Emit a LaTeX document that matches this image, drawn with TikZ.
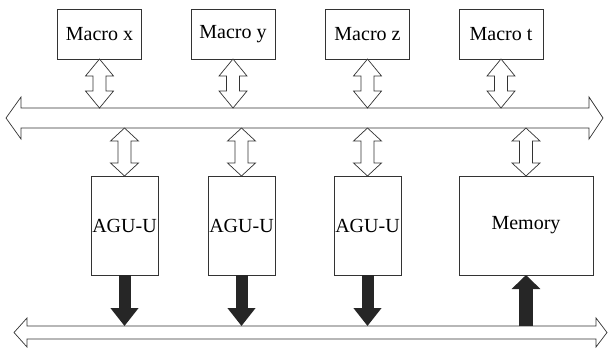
\documentclass[tikz,border=0pt]{standalone}
\usepackage{fontspec}
\setmainfont{Liberation Serif}
\usetikzlibrary{calc,arrows.meta}

% hollow two-way arrow: top point, bottom point, head length
\newcommand{\twoway}[3]{%
  \draw[fill=white] let \p1=($#1-#2$) in #1
    -- ++(14pt,-#3) -- ++(-7.5pt,0pt) -- ++(0pt,{-(\y1-2*#3)})
    -- ++(7.5pt,0pt) -- #2 -- ++(-14pt,#3) -- ++(7.5pt,0pt)
    -- ++(0pt,{\y1-2*#3}) -- ++(-7.5pt,0pt) -- cycle;}

\begin{document}
\begin{tikzpicture}[x=1pt, y=-1pt, line width=0.7pt, draw=black!80,
    unit/.style={draw=black!80, inner sep=0pt, outer sep=0pt,
      font=\fontsize{20}{22}\selectfont},
    macro/.style={unit, minimum width=84pt, minimum height=50pt},
    agu/.style={unit, minimum width=67pt, minimum height=99pt},
    feed/.style={draw=black!85, line width=12pt,
      -{Triangle[width=27pt,length=18pt]}}]
    \useasboundingbox (0,0) rectangle (608,349);
    % Macro blocks
    \node[macro] (mx) at (99.5,34) {Macro x};
    \node[macro] (my) at (233,34) {Macro y};
    \node[macro] (mz) at (367.5,34) {Macro z};
    \node[macro] (mt) at (501,34) {Macro t};
    % Upper bus
    \draw[fill=white] (6,118) -- (21,97) -- (21,108) -- (589,108) -- (589,97)
      -- (603,118) -- (589,139) -- (589,128) -- (21,128) -- (21,139) -- cycle;
    \coordinate (busup) at (300,108);
    \coordinate (buslow) at (300,128);
    % Lower bus
    \draw[fill=white] (14,332.5) -- (27,318) -- (27,326) -- (596,326) -- (596,318)
      -- (607,332.5) -- (596,347) -- (596,339) -- (27,339) -- (27,347) -- cycle;
    \coordinate (busout) at (300,326);
    % Units
    \node[agu] (a1) at (124.5,225.5) {AGU-U};
    \node[agu] (a2) at (241.5,225.5) {AGU-U};
    \node[agu] (a3) at (367.5,225.5) {AGU-U};
    \node[unit, minimum width=134pt, minimum height=99pt] (mem) at (526,225.5) {Memory};
    % Macro <-> bus
    \foreach \m in {mx,my,mz,mt}
      \twoway{(\m.south)}{(\m.south |- busup)}{17pt};
    % bus <-> units
    \foreach \u in {a1,a2,a3,mem}
      \twoway{(\u.north |- buslow)}{(\u.north)}{13pt};
    % units -> lower bus
    \foreach \u in {a1,a2,a3}
      \draw[feed] (\u.south) -- (\u.south |- busout);
    \draw[feed, line width=14pt, -{Triangle[width=28pt,length=14pt]}]
      (mem.south |- busout) -- (mem.south);
\end{tikzpicture}
\end{document}
